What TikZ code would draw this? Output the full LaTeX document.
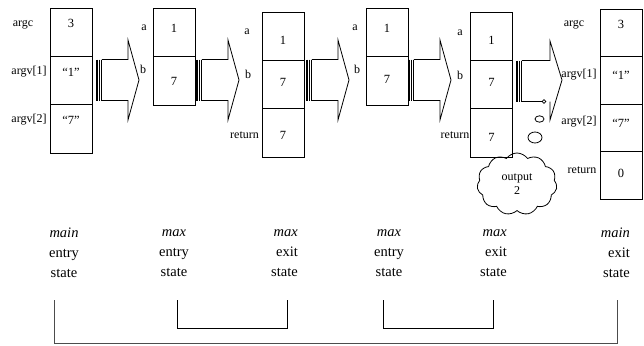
\documentclass[tikz,border=0pt]{standalone}
\usepackage{fontspec}
\setmainfont{Liberation Serif}
\usetikzlibrary{shapes.symbols}
\begin{document}
\begin{tikzpicture}[x=1pt,y=-1pt,
  cell/.style={draw,line width=0.8pt,minimum width=42pt,inner sep=0pt},
  val/.style={font=\fontsize{12.5}{14}\selectfont,text height=8.5pt,text depth=0pt,inner sep=0pt},
  lab/.style={font=\fontsize{12}{14}\selectfont,text height=8pt,text depth=2.5pt,inner sep=0pt},
  bot/.style={font=\fontsize{14.5}{20}\selectfont,inner sep=0pt},
  brk/.style={line width=0.8pt},
  stripe/.style={line width=1.3pt},
  outl/.style={line width=0.8pt,line join=miter},
  blockarrow/.pic={
    \draw[stripe] (0,-20.5)--(0,20.5) (2.4,-20.5)--(2.4,20.5) (4.8,-20.5)--(4.8,20.5);
    \draw[outl] (4.8,-20.5) -- (31,-20.5) -- (31,-40) -- (42,0) -- (31,40) -- (31,20.5) -- (4.8,20.5);
  }]
\useasboundingbox (0,0) rectangle (644,345);

% ---- block 1: main entry
\node[cell,minimum height=48.33pt] (m1a) at (71,32.17) {};
\node[cell,minimum height=48.33pt] (m1b) at (71,80.5) {};
\node[cell,minimum height=48.33pt] (m1c) at (71,128.83) {};
\node[val] at (71,23) {3};
\node[val] at (71,72) {“1”};
\node[val] at (71,120) {“7”};
\node[lab] at (23,24) {argc};
\node[lab] at (29,72) {argv[1]};
\node[lab] at (29,120) {argv[2]};

\pic at (97,80) {blockarrow};

% ---- block 2: max entry
\node[cell,minimum height=48.5pt] (x1a) at (174,32.25) {};
\node[cell,minimum height=48.5pt] (x1b) at (174,80.75) {};
\node[val] at (174,28) {1};
\node[val] at (174,81) {7};
\node[lab] at (144,28) {a};
\node[lab] at (143,71) {b};

\pic at (197,80) {blockarrow};

% ---- block 3: max exit
\node[cell,minimum height=48.33pt] (y1a) at (283,36.17) {};
\node[cell,minimum height=48.33pt] (y1b) at (283,84.5) {};
\node[cell,minimum height=48.33pt] (y1c) at (283,132.83) {};
\node[val] at (283,40) {1};
\node[val] at (283,82) {7};
\node[val] at (283,135) {7};
\node[lab] at (247,32) {a};
\node[lab] at (248,76) {b};
\node[lab] at (244.5,136) {return};

\pic at (307,80) {blockarrow};

% ---- block 4: max entry
\node[cell,minimum height=48.5pt] (x2a) at (387,32.25) {};
\node[cell,minimum height=48.5pt] (x2b) at (387,80.75) {};
\node[val] at (387,28) {1};
\node[val] at (387,79) {7};
\node[lab] at (355,28) {a};
\node[lab] at (357,71) {b};

\pic at (409,80) {blockarrow};

% ---- block 5: max exit
\node[cell,minimum height=48.33pt] (y2a) at (491.5,36.17) {};
\node[cell,minimum height=48.33pt] (y2b) at (491.5,84.5) {};
\node[cell,minimum height=48.33pt] (y2c) at (491.5,132.83) {};
\node[val] at (491.5,40) {1};
\node[val] at (491.5,82) {7};
\node[val] at (491.5,137) {7};
\node[lab] at (460,33) {a};
\node[lab] at (460,77) {b};
\node[lab] at (455,136) {return};

% ---- arrow 5 with thought bubble
\draw[stripe] (517,60.5)--(517,101.5) (519.4,60.5)--(519.4,101.5) (521.8,60.5)--(521.8,101.5);
\draw[outl] (521.8,60.5) -- (550,60.5) -- (550,41) -- (562,80) -- (550,120) -- (550,101.5);
\draw[outl] (521.8,101.5) -- (542,101.5);
\draw[line width=0.7pt] (544,101.5) circle[radius=1.9pt];
\draw[line width=0.8pt] (539.5,119) ellipse[x radius=4.5pt,y radius=3.2pt];
\draw[line width=0.8pt] (535,137.5) ellipse[x radius=7pt,y radius=5.5pt];
\node[cloud,draw,line width=0.8pt,cloud puffs=11,cloud puff arc=110,aspect=1.3,
      minimum width=80pt,minimum height=62pt,inner sep=0pt,align=center,
      font=\fontsize{12}{14}\selectfont] (cl) at (517,184) {output\\2};

% ---- block 6: main exit
\node[cell,minimum height=47.5pt] (m2a) at (621,32.75) {};
\node[cell,minimum height=47.5pt] (m2b) at (621,80.25) {};
\node[cell,minimum height=47.5pt] (m2c) at (621,127.75) {};
\node[cell,minimum height=47.5pt] (m2d) at (621,175.25) {};
\node[val] at (621,24) {3};
\node[val] at (621,75) {“1”};
\node[val] at (621,123) {“7”};
\node[val] at (621,173) {0};
\node[lab] at (574,24) {argc};
\node[lab] at (579,75) {argv[1]};
\node[lab] at (579,122) {argv[2]};
\node[lab] at (582,171) {return};

% ---- bottom captions
\node[bot,align=center] (t1) at (64,253) {\textit{main}\\entry\\state};
\node[bot,align=center] (t2) at (174,253) {\textit{max}\\entry\\state};
\node[bot,align=right,anchor=east] (t3) at (298,253) {\textit{max}\\exit\\state};
\node[bot,align=center] (t4) at (389,253) {\textit{max}\\entry\\state};
\node[bot,align=right,anchor=east] (t5) at (507,253) {\textit{max}\\exit\\state};
\node[bot,align=right,anchor=east] (t6) at (630,253) {\textit{main}\\exit\\state};

% ---- brackets
\coordinate (k1) at (54,300);
\coordinate (k2) at (177,300);
\coordinate (k3) at (287,300);
\coordinate (k4) at (383,300);
\coordinate (k5) at (493,300);
\coordinate (k6) at (617,300);
\draw[brk] (k2) -- ++(0,28) -| (k3);
\draw[brk] (k4) -- ++(0,28) -| (k5);
\draw[brk,black!70] (k1) -- ++(0,43) -| (k6);
\end{tikzpicture}
\end{document}
